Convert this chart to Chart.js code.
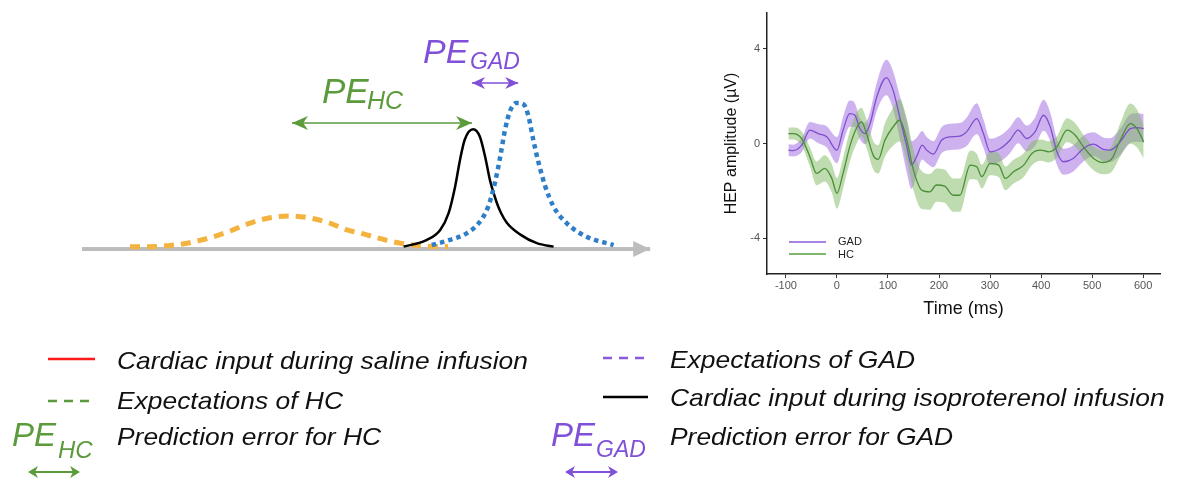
<!DOCTYPE html>
<html>
<head>
<meta charset="utf-8">
<script src="https://cdn.jsdelivr.net/npm/chart.js@4.4.1/dist/chart.umd.min.js"></script>
<style>
  body { margin: 0; background: #fff; font-family: "Liberation Sans", Arial, sans-serif; }
  #wrap { position: relative; width: 1180px; height: 479px; overflow: hidden; background: #fff; }
  .abs { position: absolute; white-space: nowrap; line-height: 1; }
  .it { font-style: italic; }
  .leg { font-size: 24px; color: #111; font-style: italic; transform: scaleX(1.1); transform-origin: left center; }
  .green { color: #5b9b3c; }
  .purple { color: #8050d8; }
  #left { position: absolute; left: 70px; top: 20px; width: 600px; height: 250px; }
  #right { position: absolute; left: 722px; top: 0px; width: 450px; height: 320px; }
  .hepLeg { font-size: 11px; color: #222; }
</style>
</head>
<body>
<div id="wrap">
  <canvas id="left" width="600" height="250"></canvas>
  <canvas id="right" width="450" height="320"></canvas>

  <!-- schematic labels -->
  <div class="abs it green" style="left:322px; top:73px; font-size:35px;">PE</div>
  <div class="abs it green" style="left:367px; top:88px; font-size:25px;">HC</div>
  <div class="abs it purple" style="left:423px; top:34px; font-size:34px;">PE</div>
  <div class="abs it purple" style="left:470px; top:50px; font-size:23px;">GAD</div>

  <!-- HEP legend -->
  <div class="abs" style="left:789px; top:241px; width:37px; height:2px; background:#a884e0;"></div>
  <div class="abs" style="left:789px; top:253px; width:37px; height:2px; background:#7fb86a;"></div>
  <div class="abs hepLeg" style="left:838px; top:236px;">GAD</div>
  <div class="abs hepLeg" style="left:838px; top:249px;">HC</div>

  <!-- bottom legend -->
  <svg class="abs" style="left:0; top:0;" width="1180" height="479">
    <line x1="48" y1="359" x2="95" y2="359" stroke="#ff1a1a" stroke-width="2.5"/>
    <line x1="48" y1="401" x2="95" y2="401" stroke="#5b9b3c" stroke-width="2.5" stroke-dasharray="9 7"/>
    <line x1="603" y1="358" x2="648" y2="358" stroke="#8a5ad8" stroke-width="2.5" stroke-dasharray="9 7"/>
    <line x1="603" y1="397" x2="648" y2="397" stroke="#000" stroke-width="2.5"/>
    <line x1="32" y1="472" x2="76" y2="472" stroke="#5b9b3c" stroke-width="2"/>
    <polygon points="28,472 38,466 35,472 38,478" fill="#5b9b3c"/>
    <polygon points="80,472 70,466 73,472 70,478" fill="#5b9b3c"/>
    <line x1="569" y1="472" x2="614" y2="472" stroke="#8050d8" stroke-width="2"/>
    <polygon points="565,472 575,466 572,472 575,478" fill="#8050d8"/>
    <polygon points="618,472 608,466 611,472 608,478" fill="#8050d8"/>
  </svg>
  <div class="abs leg" style="left:117px; top:349px;">Cardiac input during saline infusion</div>
  <div class="abs leg" style="left:117px; top:389px;">Expectations of HC</div>
  <div class="abs leg" style="left:117px; top:425px;">Prediction error for HC</div>
  <div class="abs leg" style="left:670px; top:348px;">Expectations of GAD</div>
  <div class="abs leg" style="left:670px; top:386px;">Cardiac input during isoproterenol infusion</div>
  <div class="abs leg" style="left:670px; top:425px;">Prediction error for GAD</div>
  <div class="abs it green" style="left:12px; top:418px; font-size:33px;">PE</div>
  <div class="abs it green" style="left:58px; top:438px; font-size:24px;">HC</div>
  <div class="abs it purple" style="left:551px; top:418px; font-size:33px;">PE</div>
  <div class="abs it purple" style="left:596px; top:438px; font-size:23px;">GAD</div>
</div>

<script>
// ---- schematic (left) : position along axis / height ----
var orangeX = [10, 13.3, 17, 20.3, 23.6, 26.7, 29.9, 33.1, 36.4, 39.7, 43.1, 46.2, 48.9, 52.5, 56.1, 59.4, 63];
var orangeY = [0.016, 0.016, 0.025, 0.046, 0.08, 0.123, 0.176, 0.212, 0.226, 0.214, 0.18, 0.13, 0.103, 0.062, 0.032, 0.02, 0.016];

var blackX = [55.6, 59.4, 61.7, 63.1, 64.2, 65, 65.8, 67.2, 68.3, 69.2, 70, 71.1, 71.8, 72.8, 75, 77.8, 80.6];
var blackY = [0.016, 0.06, 0.13, 0.245, 0.43, 0.61, 0.75, 0.82, 0.77, 0.63, 0.47, 0.32, 0.25, 0.18, 0.1, 0.04, 0.016];

var blueX = [60.3, 63.3, 66.1, 68.1, 69.7, 70.8, 71.7, 72.5, 73.3, 74.4, 75.6, 76.4, 77.2, 78.1, 79.2, 80.6, 82.8, 86.1, 90.6];
var blueY = [0.027, 0.062, 0.107, 0.176, 0.29, 0.45, 0.63, 0.815, 0.94, 1.0, 0.99, 0.91, 0.75, 0.59, 0.43, 0.29, 0.176, 0.084, 0.027];

var axisX = [2, 96.7];
var peHcX = [37, 67];
var peHcY = 0.863;
var peGadX = [67, 74.7];
var peGadY = 1.137;

// ---- HEP amplitude (right) ----
var gadTime = [-95, -86, -69, -53, -37, -20, 0, 12, 25, 35, 45, 55, 65, 78, 97, 110, 123, 137, 146, 156, 167, 176, 189, 205,
  222, 241, 254, 274, 287, 300, 320, 339, 355, 372, 388, 405, 418, 431, 444, 463, 483, 503, 522, 535, 555, 575, 588, 601];
var gadMean = [-0.28, -0.3, -0.07, 0.56, 0.42, 0.28, -0.28, 0.56, 1.26, 1.2, 0.63, 0.42, 0.84, 1.96, 2.78, 2.25, 1.12, -0.14, -0.91, -0.56, -0.07, -0.28, -0.45, 0.14,
  0.28, 0.31, 0.49, 1.05, 0.42, -0.35, -0.21, 0.14, 0.56, 0.21, 0.49, 1.19, 0.7, -0.35, -0.77, -0.63, -0.21, -0.03, -0.25, -0.28, 0.07, 0.63, 0.67, 0.63];
var gadSE = [0.25, 0.25, 0.3, 0.35, 0.4, 0.45, 0.55, 0.55, 0.55, 0.5, 0.45, 0.45, 0.5, 0.6, 0.75, 0.8, 0.9, 1.1, 1.0, 0.8, 0.6, 0.55, 0.55, 0.55,
  0.55, 0.55, 0.6, 0.65, 0.6, 0.55, 0.55, 0.55, 0.55, 0.55, 0.6, 0.65, 0.6, 0.55, 0.55, 0.55, 0.55, 0.5, 0.5, 0.5, 0.55, 0.6, 0.6, 0.6];

var hcTime = [-95, -86, -69, -53, -40, -24, -10, 0, 12, 25, 38, 48, 58, 71, 81, 94, 110, 123, 137, 150, 166, 182, 195, 211,
  228, 241, 261, 274, 284, 300, 317, 330, 346, 366, 382, 399, 415, 431, 451, 467, 483, 503, 522, 539, 555, 575, 588, 601];
var hcMean = [0.42, 0.42, 0.21, -0.56, -1.26, -1.05, -1.47, -2.1, -1.26, -0.14, 0.63, 0.91, 0.42, -0.49, -0.67, 0.14, 0.7, 0.98, 0.14, -1.12, -1.96, -2.04, -1.75, -1.8,
  -2.18, -2.18, -0.91, -0.98, -1.4, -0.84, -0.91, -1.47, -1.19, -0.91, -0.42, -0.28, -0.35, -0.14, 0.56, 0.35, -0.14, -0.63, -0.8, -0.63, 0.14, 0.84, 0.63, 0.07];
var hcSE = [0.25, 0.25, 0.3, 0.4, 0.5, 0.55, 0.6, 0.65, 0.65, 0.65, 0.65, 0.6, 0.6, 0.6, 0.6, 0.7, 0.8, 0.9, 0.9, 0.85, 0.8, 0.75, 0.7, 0.7,
  0.7, 0.7, 0.6, 0.55, 0.5, 0.5, 0.5, 0.5, 0.5, 0.5, 0.5, 0.45, 0.45, 0.45, 0.5, 0.5, 0.5, 0.5, 0.5, 0.55, 0.7, 0.85, 0.8, 0.7];

var xTicks = [-100, 0, 100, 200, 300, 400, 500, 600];
var yTicks = [-4, 0, 4];

Chart.defaults.font.family = '"Liberation Sans", Arial, sans-serif';
Chart.defaults.animation = false;

function pts(xs, ys) {
  return xs.map(function (x, i) { return { x: x, y: ys[i] }; });
}
function flat(xs, y) {
  return xs.map(function (x) { return { x: x, y: y }; });
}

// arrowheads on the ends of datasets that ask for them
function head(ctx, x, y, dir, len, half, barb, color) {
  ctx.save();
  ctx.fillStyle = color;
  ctx.beginPath();
  ctx.moveTo(x, y);
  ctx.lineTo(x - dir * len, y - half);
  ctx.lineTo(x - dir * len * barb, y);
  ctx.lineTo(x - dir * len, y + half);
  ctx.closePath();
  ctx.fill();
  ctx.restore();
}
var arrowHeads = {
  id: 'arrowHeads',
  afterDatasetsDraw: function (chart) {
    var ctx = chart.ctx;
    chart.data.datasets.forEach(function (ds, i) {
      if (!ds.arrow) return;
      var p = chart.getDatasetMeta(i).data;
      var a = p[0], b = p[p.length - 1];
      var o = ds.arrow;
      if (o.end) head(ctx, b.x, b.y, 1, o.len, o.half, o.barb, ds.borderColor);
      if (o.start) head(ctx, a.x, a.y, -1, o.len, o.half, o.barb, ds.borderColor);
    });
  }
};

new Chart(document.getElementById('left'), {
  type: 'line',
  data: {
    datasets: [
      { data: flat(axisX, 0), borderColor: '#bdbdbd', borderWidth: 4, pointRadius: 0, order: 5,
        arrow: { end: true, len: 17, half: 8, barb: 1 } },
      { data: pts(orangeX, orangeY), borderColor: '#f4b23e', borderWidth: 5, borderDash: [10, 7],
        pointRadius: 0, cubicInterpolationMode: 'monotone', order: 4 },
      { data: pts(blackX, blackY), borderColor: '#000', borderWidth: 2.5, pointRadius: 0,
        cubicInterpolationMode: 'monotone', order: 3 },
      { data: pts(blueX, blueY), borderColor: '#2f7fc8', borderWidth: 4.5, borderDash: [4.5, 4],
        pointRadius: 0, cubicInterpolationMode: 'monotone', order: 2 },
      { data: flat(peHcX, peHcY), borderColor: '#5b9b3c', borderWidth: 1.5, pointRadius: 0, order: 1,
        arrow: { start: true, end: true, len: 16, half: 7, barb: 0.7 } },
      { data: flat(peGadX, peGadY), borderColor: '#8050d8', borderWidth: 1.5, pointRadius: 0, order: 1,
        arrow: { start: true, end: true, len: 13, half: 6, barb: 0.7 } }
    ]
  },
  options: {
    responsive: false,
    layout: { padding: 0 },
    plugins: { legend: { display: false }, tooltip: { enabled: false } },
    scales: {
      x: { type: 'linear', min: 0, max: 100, display: false },
      y: { min: -0.144, max: 1.568, display: false }
    }
  },
  plugins: [arrowHeads]
});

function band(t, m, s, sign) {
  return t.map(function (x, i) { return { x: x, y: m[i] + sign * s[i] }; });
}

new Chart(document.getElementById('right'), {
  type: 'line',
  data: {
    datasets: [
      { data: band(gadTime, gadMean, gadSE, 1), borderWidth: 0, pointRadius: 0, cubicInterpolationMode: 'monotone', fill: false, order: 4 },
      { data: band(gadTime, gadMean, gadSE, -1), borderWidth: 0, pointRadius: 0, cubicInterpolationMode: 'monotone',
        fill: '-1', backgroundColor: 'rgba(165,115,225,0.55)', order: 4 },
      { data: band(hcTime, hcMean, hcSE, 1), borderWidth: 0, pointRadius: 0, cubicInterpolationMode: 'monotone', fill: false, order: 3 },
      { data: band(hcTime, hcMean, hcSE, -1), borderWidth: 0, pointRadius: 0, cubicInterpolationMode: 'monotone',
        fill: '-1', backgroundColor: 'rgba(125,185,95,0.5)', order: 3 },
      { label: 'GAD', data: pts(gadTime, gadMean), borderColor: '#7e4fcf', borderWidth: 1.3, pointRadius: 0,
        cubicInterpolationMode: 'monotone', order: 2 },
      { label: 'HC', data: pts(hcTime, hcMean), borderColor: '#4a8f35', borderWidth: 1.3, pointRadius: 0,
        cubicInterpolationMode: 'monotone', order: 1 }
    ]
  },
  options: {
    responsive: false,
    layout: { padding: { top: 13, right: 12, left: 0, bottom: 0 } },
    plugins: { legend: { display: false }, tooltip: { enabled: false } },
    scales: {
      x: {
        type: 'linear', min: -137, max: 633,
        afterBuildTicks: function (s) { s.ticks = xTicks.map(function (v) { return { value: v }; }); },
        afterFit: function (s) { s.height = 46; },
        grid: { drawOnChartArea: false, drawTicks: true, tickLength: 4, color: '#333' },
        border: { display: true, color: '#222', width: 1.5 },
        ticks: { color: '#555', font: { size: 11 }, padding: 1, maxRotation: 0 },
        title: { display: true, text: 'Time (ms)', color: '#111', font: { size: 18 }, padding: { top: 0, bottom: 0 } }
      },
      y: {
        min: -5.5, max: 5.5,
        afterBuildTicks: function (s) { s.ticks = yTicks.map(function (v) { return { value: v }; }); },
        afterFit: function (s) { s.width = 45; },
        grid: { drawOnChartArea: false, drawTicks: true, tickLength: 4, color: '#333' },
        border: { display: true, color: '#222', width: 1.5 },
        ticks: { color: '#555', font: { size: 11 }, padding: 3 },
        title: { display: true, text: 'HEP amplitude (µV)', color: '#111', font: { size: 16 }, padding: { top: 0, bottom: 2 } }
      }
    }
  }
});
</script>
</body>
</html>
